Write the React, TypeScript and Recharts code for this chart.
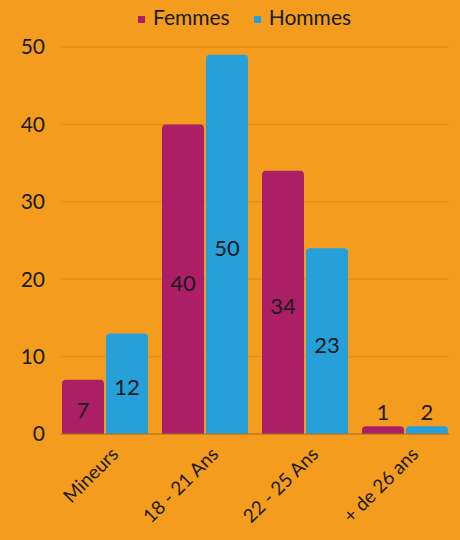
import { BarChart, Bar, XAxis, YAxis, CartesianGrid, Legend, LabelList } from "recharts";

const categories = ["Mineurs", "18 - 21 Ans", "22 - 25 Ans", "+ de 26 ans"];
const femmes = [7, 40, 34, 1];
const hommes = [13, 49, 24, 1];
// labels as printed on the original (they don't always match the bar heights)
const femmesLabels = ["7", "40", "34", "1"];
const hommesLabels = ["12", "50", "23", "2"];
const yTicks = [0, 10, 20, 30, 40, 50];

const data = categories.map((name, i) => ({
  name,
  femmes: femmes[i],
  hommes: hommes[i],
  femmesLabel: femmesLabels[i],
  hommesLabel: hommesLabels[i],
}));

const FONT = "Lato, 'Open Sans', sans-serif";
const BG = "#f39c1e";

function ValueLabel(props: any) {
  const { x, y, width, height, value } = props;
  const small = height < 20;
  const cy = small ? y - 15 : y + height / 2 + 3;
  return (
    <text
      x={x + width / 2}
      y={cy}
      textAnchor="middle"
      dominantBaseline="central"
      fontFamily={FONT}
      fontSize={22}
      fill="#1a1a1a"
    >
      {value}
    </text>
  );
}

export default function App() {
  return (
    <div style={{ position: "fixed", left: 0, top: 0, width: 460, height: 540, background: BG }}>
      <BarChart
        width={460}
        height={540}
        data={data}
        margin={{ top: 22, right: 11, left: 0, bottom: 0 }}
        barCategoryGap={7}
        barGap={2}
      >
        <CartesianGrid vertical={false} stroke="#df8a1c" />
        <XAxis
          dataKey="name"
          height={106}
          padding={{ left: -6, right: -6 }}
          interval={0}
          tickLine={false}
          axisLine={{ stroke: "#a8701f" }}
          angle={-45}
          textAnchor="end"
          tick={{ fontFamily: FONT, fontSize: 19, fill: "#1a1a1a", dx: 5, dy: 4 }}
        />
        <YAxis
          width={61}
          domain={[0, 50]}
          ticks={yTicks}
          tickLine={false}
          axisLine={false}
          tickMargin={10}
          tick={{ fontFamily: FONT, fontSize: 21, fill: "#1a1a1a" }}
        />
        <Legend
          verticalAlign="top"
          align="center"
          iconType="square"
          iconSize={7}
          wrapperStyle={{ top: 4, left: 32, fontFamily: FONT, fontSize: 21 }}
          formatter={(v: string) => (
            <span style={{ color: "#1a1a1a", marginLeft: 4, marginRight: 14 }}>{v}</span>
          )}
        />
        <Bar dataKey="femmes" name="Femmes" fill="#ac1e66" radius={[4, 4, 0, 0]} isAnimationActive={false}>
          <LabelList dataKey="femmesLabel" content={ValueLabel} />
        </Bar>
        <Bar dataKey="hommes" name="Hommes" fill="#279fd9" radius={[4, 4, 0, 0]} isAnimationActive={false}>
          <LabelList dataKey="hommesLabel" content={ValueLabel} />
        </Bar>
      </BarChart>
    </div>
  );
}
